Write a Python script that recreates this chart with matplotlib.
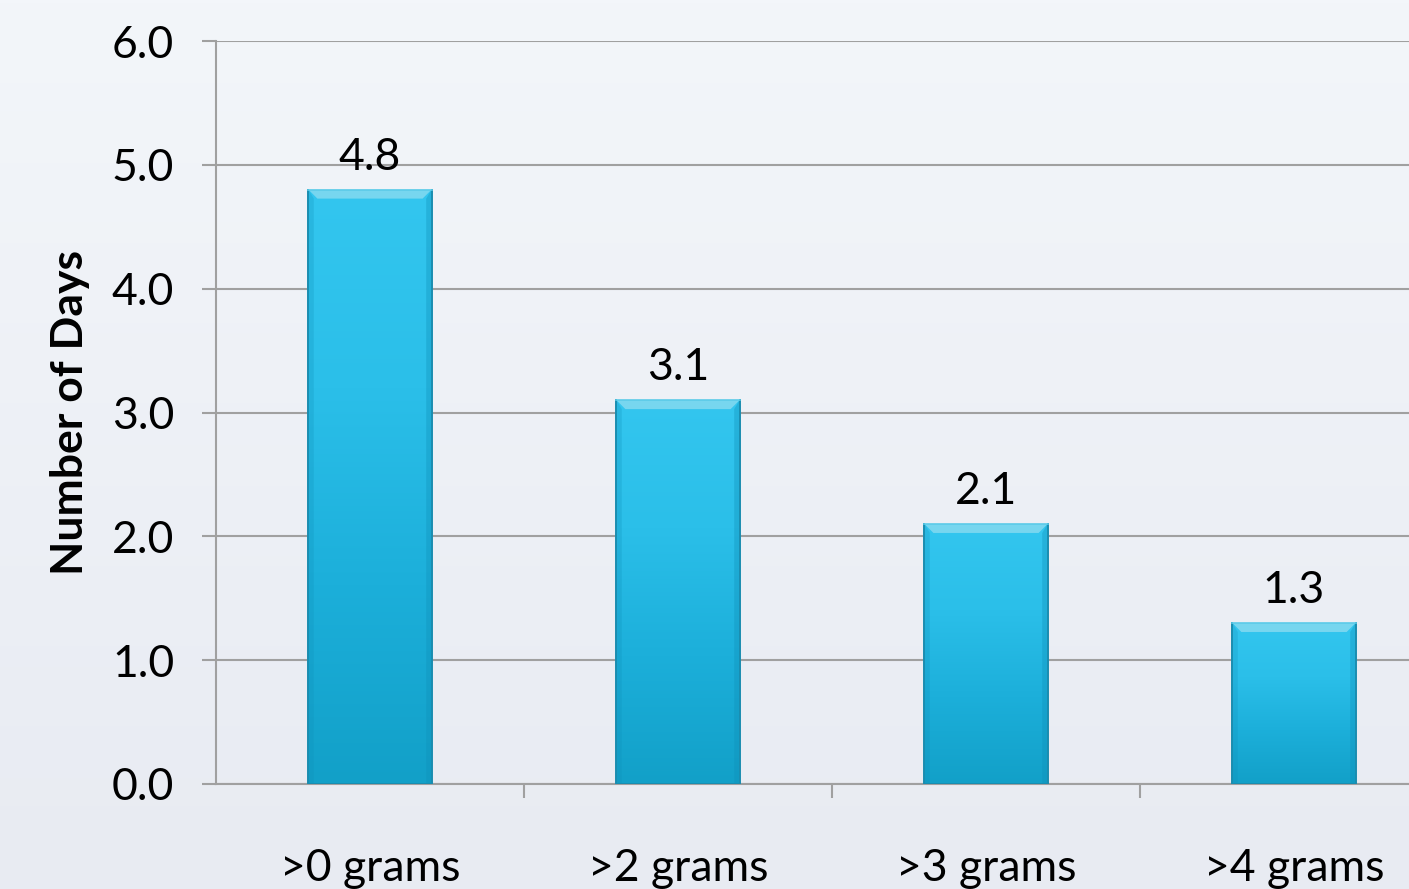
import numpy as np
import matplotlib
matplotlib.use("Agg")
import matplotlib.pyplot as plt
from matplotlib.colors import LinearSegmentedColormap
from matplotlib.patches import Polygon

categories = [">0 grams", ">2 grams", ">3 grams", ">4 grams"]
days = [4.8, 3.1, 2.1, 1.3]
y_ticks = [0.0, 1.0, 2.0, 3.0, 4.0, 5.0, 6.0]
y_label = "Number of Days"

plt.rcParams["font.family"] = ["Lato", "DejaVu Sans"]

W, H, DPI = 1409, 889, 100
FS = 32
fig = plt.figure(figsize=(W / DPI, H / DPI), dpi=DPI)

# soft vertical background gradient
bg = fig.add_axes([0, 0, 1, 1], zorder=-10)
bg_cmap = LinearSegmentedColormap.from_list("bg", ["#e8ebf2", "#f3f6fa"])
bg.imshow(np.linspace(0, 1, 256)[:, None], aspect="auto", cmap=bg_cmap,
          origin="lower", extent=[0, 1, 0, 1])
bg.set_axis_off()

ax_w_px, ax_h_px = 1232, 743
ax = fig.add_axes([216 / W, (H - 784) / H, ax_w_px / W, ax_h_px / H])
ax.patch.set_alpha(0)

n = len(categories)
x = np.arange(n)
bar_w = 0.4
bars = ax.bar(x, days, width=bar_w, color="none", edgecolor="none", zorder=3)

# data units per pixel, for the bevel geometry
px_x = n / ax_w_px
px_y = 6.0 / ax_h_px
bev = 9

bar_cmap = LinearSegmentedColormap.from_list(
    "bar", ["#12a0c8", "#1cafda", "#2bbfe9", "#33c6ef"])
for b, v in zip(bars, days):
    x0, x1 = b.get_x(), b.get_x() + bar_w
    im = ax.imshow(np.linspace(0, 1, 256)[:, None], aspect="auto",
                   cmap=bar_cmap, origin="lower",
                   extent=[x0, x1, 0, v], zorder=3)
    im.set_clip_path(b)
    bx, by = bev * px_x, bev * px_y
    # bevelled top face
    ax.add_patch(Polygon([(x0, v), (x1, v), (x1 - bx, v - by), (x0 + bx, v - by)],
                         closed=True, facecolor="#8fdcf0", alpha=0.75,
                         edgecolor="none", zorder=4))
    # shaded side faces
    ax.add_patch(Polygon([(x0, v), (x0 + bx * 0.6, v - by), (x0 + bx * 0.6, 0), (x0, 0)],
                         closed=True, facecolor="#0f8fb8", alpha=0.25,
                         edgecolor="none", zorder=4))
    ax.add_patch(Polygon([(x1, v), (x1 - bx * 0.6, v - by), (x1 - bx * 0.6, 0), (x1, 0)],
                         closed=True, facecolor="#0f8fb8", alpha=0.35,
                         edgecolor="none", zorder=4))
    ax.plot([x0, x0, x1, x1], [v, 0, 0, v], color="#1a8db0",
            lw=1.4, zorder=5, solid_joinstyle="miter")
    ax.plot([x0, x1], [v, v], color="#5ccbe8", lw=1.2, zorder=5)
    ax.text((x0 + x1) / 2, v + 20 * px_y, f"{v:.1f}", ha="center",
            va="baseline", fontsize=FS, color="#000000", zorder=6)

ax.set_xlim(-0.5, n - 0.5)
ax.set_ylim(0, 6)
ax.set_yticks(y_ticks)
ax.set_yticklabels([f"{t:.1f}" for t in y_ticks], fontsize=FS)
ax.set_xticks(x)
ax.set_xticklabels(categories, fontsize=FS)
ax.set_xticks(np.arange(0.5, n - 0.5, 1.0), minor=True)

ax.yaxis.grid(True, color="#a0a0a0", lw=1.5, zorder=0)
ax.set_axisbelow(True)
for s in ["top", "right"]:
    ax.spines[s].set_visible(False)
for s in ["left", "bottom"]:
    ax.spines[s].set_color("#a0a0a0")
    ax.spines[s].set_linewidth(1.5)

ax.tick_params(axis="y", length=10, width=1.5, color="#a0a0a0", pad=20)
ax.tick_params(axis="x", which="major", length=0, pad=46)
ax.tick_params(axis="x", which="minor", length=10, width=1.5, color="#a0a0a0")

ax.set_ylabel(y_label, fontsize=FS, fontweight="bold", labelpad=16)

fig.savefig("out.png", dpi=DPI)
